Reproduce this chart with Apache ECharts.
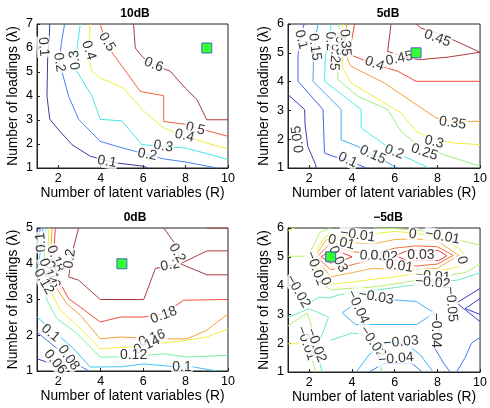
<!DOCTYPE html>
<html><head><meta charset="utf-8">
<script src="https://cdn.jsdelivr.net/npm/echarts@6/dist/echarts.min.js"></script>
<style>html,body{margin:0;padding:0;background:#fff}#c{width:490px;height:408px}</style>
</head><body><div id="c"></div>
<script>
// ---------- data ----------
const titles = ['10dB', '5dB', '0dB', '\u22125dB'];
const xTicks = [2, 4, 6, 8, 10];
const yMaxes = [7, 6, 5, 6];
const bestPoints = [[9, 6], [7, 5], [5, 4], [3, 5]];

// 10dB contour lines [level, [[R, lambda], ...]]
const lines10 = [
  [0.1, [[1.6,7],[1.58,6.5],[1.5,5.5],[1.47,4.0],[1.6,3.04],[1.94,2.67],[2.65,1.97],[3.51,1.49],[4.4,1.28],[4.77,1.21],[6.03,1.07],[6.2,1.0]]],
  [0.2, [[2.3,7],[2.15,6.2],[2.05,5.4],[2.18,5.0],[2.49,3.99],[2.96,3.03],[3.98,2.11],[4.77,1.9],[5.6,1.7],[6.2,1.56],[6.97,1.38],[8.07,1.24],[9.48,1.0]]],
  [0.3, [[3.04,7],[2.92,6.2],[2.8,5.5],[2.88,5.03],[3.59,3.99],[3.98,3.03],[5.0,2.96],[5.95,1.97],[7.0,1.9],[7.99,1.83],[9.0,1.6],[10,1.35]]],
  [0.4, [[3.51,7],[3.43,6.2],[3.45,5.6],[3.59,5.03],[3.98,4.75],[5.08,4.33],[5.95,3.43],[6.97,2.67],[7.75,2.39],[8.1,2.3],[9.0,2.04],[10,1.79]]],
  [0.5, [[3.98,7],[4.2,6.3],[4.61,5.72],[5.87,4.19],[6.97,4.01],[6.97,2.94],[8.07,2.81],[8.5,2.68],[10,2.32]]],
  [0.6, [[5.55,7],[5.63,6.0],[6.0,5.6],[6.5,5.3],[7.28,5.03],[7.99,4.33],[8.54,3.85],[9.0,3.01],[10,3.01]]]
];
const labels10 = [[1.3,6.05,'0.1'],[2.05,5.4,'0.2'],[2.8,5.5,'0.3'],[3.44,5.9,'0.4'],[4.3,6.25,'0.5'],[6.5,5.3,'0.6'],
  [8.46,2.63,'0.5'],[7.95,2.34,'0.4'],[6.95,1.9,'0.3'],[6.2,1.56,'0.2'],[4.3,1.27,'0.1']];

// 5dB contour lines
const lines5 = [
  [0.05, [[1,3.55],[1.78,3.03],[1.8,2.5],[1.93,1.75],[2.29,1.12],[2.32,1]]],
  [0.1, [[1.75,6],[1.6,5.5],[1.47,4.94],[1.47,4.01],[2.64,3.03],[2.71,1.52],[3.1,1.41],[3.9,1.25],[4.66,1]]],
  [0.15, [[2.4,6],[2.25,5.3],[2.2,4.9],[2.17,4.01],[3.49,3.03],[3.49,1.98],[4.27,1.75],[5.0,1.45],[6.14,1.0]]],
  [0.2, [[3.02,6],[2.95,5.3],[2.75,4.9],[2.71,4.01],[4.43,3.03],[4.43,2.39],[5.21,1.98],[6.0,1.55],[7.62,1.0]]],
  [0.25, [[3.41,6],[3.3,5.3],[3.34,4.07],[4.27,3.49],[5.67,3.03],[6.3,2.27],[7.0,1.85],[8.32,1.46],[10,1.06]]],
  [0.3, [[3.57,6],[3.55,5.3],[3.55,4.5],[3.96,3.95],[6.3,2.91],[7.0,2.27],[8.0,1.95],[8.79,1.87],[10,1.81]]],
  [0.35, [[3.75,6],[3.7,5.2],[3.8,4.76],[3.96,4.53],[5.52,3.95],[7.93,2.74],[8.7,2.62],[10,2.62]]],
  [0.4, [[4.12,6],[3.95,5.3],[3.88,4.94],[5.0,4.62],[6.14,4.36],[7.0,4.01],[10,4.01]]],
  [0.45, [[5.83,6],[5.67,5.05],[6.5,4.85],[7.15,4.76],[8.5,4.85],[10,5.02],[8.32,5.59],[7.23,5.86],[7.0,6]]]
];
const labels5 = [[1.62,5.46,'0.1'],[2.25,5.2,'0.15'],[2.99,5.4,'0.2'],[3.2,4.85,'0.25'],[3.45,5.25,'0.3'],[3.68,5.35,'0.35'],
  [5.05,4.62,'0.4'],[6.22,4.8,'0.45'],[8.0,5.5,'0.45'],[8.71,2.56,'0.35'],[7.85,1.9,'0.3'],[7.39,1.55,'0.25'],
  [5.98,1.56,'0.2'],[4.97,1.46,'0.15'],[3.8,1.28,'0.1'],[1.47,2.0,'0.05']];

// 0dB contour lines
const lines0 = [
  [0.06, [[1.05,5],[1.0,4.85]]],
  [0.06, [[1,1.34],[2.0,1.15],[2.65,1.0]]],
  [0.08, [[1.16,5],[1.0,4.5]]],
  [0.08, [[1,2.09],[2.0,1.6],[2.88,1.2],[3.43,1.0]]],
  [0.1, [[1.28,5],[1.15,4.3],[1.0,3.8]]],
  [0.1, [[1,2.51],[1.9,2.05],[2.65,1.67],[3.51,1.11],[5.0,1.12],[6.03,1.2],[7.5,1.12],[8.38,1.11],[9.48,1.0]]],
  [0.12, [[1.41,5],[1.35,4.3],[1.3,3.6],[1.47,2.98],[1.94,2.46],[2.81,2.09],[3.98,1.39],[5.24,1.39],[6.97,1.48],[8.07,1.39],[10,1.44]]],
  [0.14, [[1.57,5],[1.5,4.3],[1.5,3.6],[1.63,3.25],[2.1,2.7],[2.88,2.28],[3.98,1.62],[5.24,1.67],[6.5,1.75],[8.07,1.86],[9,1.95],[10,2.18]]],
  [0.16, [[1.71,5],[1.65,4.3],[1.65,3.8],[1.79,3.44],[2.41,2.88],[3.04,2.56],[3.98,1.9],[4.93,1.95],[6.03,1.92],[6.97,1.9],[8.07,1.9],[9.0,2.14],[10,2.6]]],
  [0.18, [[1.86,5],[1.8,4.3],[1.79,3.82],[2.02,3.54],[2.49,3.02],[3.04,2.79],[3.98,2.37],[4.93,2.51],[6.03,2.51],[6.97,2.6],[7.91,2.98],[10,3.0]]],
  [0.2, [[2.96,5],[2.7,4.4],[2.49,3.63],[2.96,3.54],[3.98,3.0],[6.03,3.0],[6.58,3.87],[7.75,4.0],[9.01,3.69],[10,3.69]]],
  [0.2, [[6.97,5.0],[7.6,4.48],[7.75,4.0],[9.01,4.36],[10,4.36]]],
  [0.2, [[9,5],[10,5]]]
];
const labels0 = [[1.19,4.6,'0.1'],[1.86,4.14,'0.18'],[1.72,3.7,'0.16'],[1.5,3.78,'0.14'],[1.32,3.5,'0.12'],[2.55,4.14,'0.2'],
  [7.28,3.96,'0.2'],[7.6,4.3,'0.2'],[6.97,2.56,'0.18'],[6.42,1.92,'0.16'],[6.18,1.72,'0.14'],[5.55,1.44,'0.12'],
  [7.83,1.1,'0.1'],[1.63,2.06,'0.1'],[2.49,1.37,'0.08'],[1.86,1.25,'0.06']];

// -5dB contour lines
const linesM5 = [
  [0.03, [[2.55,5.0],[3.0,5.22],[3.6,5.12],[4.0,5.0],[3.6,4.88],[3.0,4.78],[2.55,5.0]]],
  [0.03, [[6.03,5.04],[6.58,5.21],[8.06,5.21],[8.45,5.04],[8.06,4.87],[6.58,4.87],[6.03,5.04]]],
  [0.02, [[2.35,5.0],[2.9,5.4],[4.0,5.18],[5.0,5.1],[6.0,5.3],[7.0,5.38],[8.0,5.35],[8.75,5.05],[8.0,4.75],[7.0,4.68],[6.0,4.75],[5.0,4.92],[4.0,4.72],[3.0,4.55],[2.35,5.0]]],
  [0.01, [[2.25,5.0],[2.8,5.6],[3.9,5.5],[5.0,5.45],[6.0,5.6],[7.0,5.62],[8.0,5.55],[9.0,5.05],[8.0,4.6],[7.0,4.55],[6.0,4.55],[5.0,4.6],[4.0,4.45],[3.0,4.3],[2.25,5.0]]],
  [0, [[2.15,5.0],[2.75,5.72],[4.0,5.75],[5.0,5.8],[6.0,5.88],[7.0,5.82],[8.0,5.68],[9.0,5.3],[9.35,5.0],[9.0,4.65],[8.0,4.5],[7.0,4.42],[6.0,4.3],[5.0,4.22],[4.0,4.12],[3.0,4.05],[2.6,4.35],[2.15,5.0]]],
  [0, [[1,1.98],[1.45,1.98],[1.6,2.15]]],
  [0, [[1,5.9],[1.3,6.0]]],
  [-0.01, [[1,5.02],[1.95,5.02],[2.5,5.85],[3.0,6.0]]],
  [-0.01, [[5.0,6.0],[6.0,5.98],[7.3,5.9],[8.3,5.75],[9.2,5.55],[10,5.4]]],
  [-0.01, [[10,4.75],[9.3,4.45],[8.5,4.35],[7.8,4.3],[6.5,4.12],[5.5,4.0],[4.5,3.92],[3.5,3.88],[3.0,3.85],[2.7,4.0],[2.3,4.6],[1.95,5.02]]],
  [-0.01, [[1,2.6],[1.9,3.05],[2.1,2.6],[1.85,2.0],[2.1,1.5],[2.3,1.0]]],
  [-0.02, [[1,4.4],[1.5,3.8],[2.0,3.4],[2.45,3.6],[2.92,3.57],[3.5,3.7],[4.5,3.78],[5.5,3.88],[6.5,3.98],[7.8,4.1],[9.0,4.2],[10,4.45]]],
  [-0.02, [[1,2.9],[2.0,3.2],[2.9,2.9],[2.6,2.3],[2.35,1.8],[2.6,1.0]]],
  [-0.02, [[3.0,2.1],[4.0,2.35],[4.6,2.3],[5.2,1.75],[5.4,1.0]]],
  [-0.03, [[3.54,3.06],[4.3,3.45],[5.0,3.55],[6.0,3.5],[7.0,3.45],[7.85,3.05],[7.04,2.65],[6.0,2.65],[4.16,2.65],[3.54,3.06]]],
  [-0.03, [[4.2,1.0],[4.8,1.6],[5.5,2.0],[6.5,2.0],[7.2,1.6],[7.8,1.0]]],
  [-0.04, [[4.8,1.0],[5.5,1.3],[6.8,1.3],[7.3,1.0]]],
  [-0.04, [[7.85,3.05],[8.1,2.5],[7.9,1.8],[8.3,1.3],[8.6,1.0]]],
  [-0.04, [[8.9,1.0],[9.3,1.5],[9.6,2.0],[10,2.2]]],
  [-0.05, [[10,3.9],[8.9,3.4],[10,2.75]]],
  [-0.05, [[10,3.55],[9.3,3.2],[10,3.0]]]
];
const labelsM5 = [[4.27,5.75,'\u22120.01'],[6.84,5.78,'0'],[8.24,5.7,'\u22120.01'],[3.5,5.5,'0.01'],[3.34,4.92,'0.03'],
  [5.0,5.02,'0.02'],[5.5,5.02,'0.02'],[7.23,5.05,'0.03'],[6.22,4.68,'0.01'],[9.15,4.88,'0'],[7.78,4.32,'\u22120.01'],
  [7.78,4.1,'\u22120.02'],[2.3,4.6,'\u22120.01'],[2.75,4.15,'0'],[1.47,3.8,'\u22120.02'],[5.13,3.6,'\u22120.03'],
  [4.27,3.26,'\u22120.04'],[8.65,3.35,'\u22120.05'],[7.93,2.45,'\u22120.04'],[4.97,2.04,'\u22120.02'],[6.3,2.04,'\u22120.03'],
  [6.06,1.46,'\u22120.04'],[1.85,2.0,'\u22120.01'],[2.32,1.93,'\u22120.02']];

// ---------- styles ----------
const rot10 = [-85, -82, 97, -72, -58, -22, -14, -14, -8, -10, -10];
const rot5 = [-75, -82, -88, -95, -88, -85, -20, 12, -20, -8, -14, -18, -20, -24, -24, 98];
const rot0 = [95, -70, -75, -70, -60, 82, 10, -60, 20, 20, 25, 0, 0, -40, -55, -50];
const rotM5 = [-8, -8, -10, -14, -65, -3, -3, 0, -8, -75, -5, -5, -70, -70, -60, -10, -65, -85, -90, -55, 5, 5, -70, -70];
const colors10 = {'0.1':'#3d3d9a','0.2':'#4d80ee','0.3':'#48e6e6','0.4':'#ecec3c','0.5':'#f0643c','0.6':'#a63c3c'};
const colors5 = {'0.05':'#3c3cb4','0.1':'#4060f0','0.15':'#40a8f4','0.2':'#44ecec','0.25':'#96f07a','0.3':'#f2ec40','0.35':'#f5a035','0.4':'#ef4a3a','0.45':'#aa3c3c'};
const colors0 = {'0.06':'#3c3cb4','0.08':'#4070f0','0.1':'#40c4f4','0.12':'#7cf0a0','0.14':'#eeee40','0.16':'#f5a035','0.18':'#ef4a3a','0.2':'#aa3c3c'};
const colorsM5 = {'-0.05':'#3c3cc8','-0.04':'#4078f0','-0.03':'#40b4f4','-0.02':'#6ee8c0','-0.01':'#b4f070','0':'#f0ee40','0.01':'#f5b040','0.02':'#f27040','0.03':'#e83c3c'};
const gridBoxes = [
  {left: 37, top: 24, width: 191, height: 144},
  {left: 288, top: 24, width: 193, height: 144},
  {left: 37, top: 228, width: 191, height: 143},
  {left: 288, top: 228, width: 193, height: 144}
];
const titleX = [130, 383, 130, 383];
const titleY = [3, 3, 207, 207];
const FONT = 'Liberation Sans, Arial, sans-serif';

const panelData = [
  [lines10, labels10, rot10, colors10],
  [lines5, labels5, rot5, colors5],
  [lines0, labels0, rot0, colors0],
  [linesM5, labelsM5, rotM5, colorsM5]
];

const grid = [], xAxis = [], yAxis = [], series = [], title = [];
panelData.forEach(([lines, labels, rots, colors], i) => {
  grid.push(Object.assign({show: true, borderColor: '#222', borderWidth: 1, backgroundColor: '#fff', containLabel: false}, gridBoxes[i]));
  title.push({text: titles[i], left: titleX[i], top: titleY[i], textAlign: 'center',
    textStyle: {fontFamily: FONT, fontWeight: 'bold', fontSize: 12, color: '#000'}});
  xAxis.push({type: 'value', gridIndex: i, min: 1, max: 10,
    name: 'Number of latent variables (R)', nameLocation: 'middle', nameGap: 16,
    nameTextStyle: {fontFamily: FONT, fontSize: 13.8, color: '#000'},
    axisLine: {show: true, lineStyle: {color: '#222'}},
    axisTick: {show: true, inside: true, length: 3, customValues: xTicks, lineStyle: {color: '#222'}},
    axisLabel: {customValues: xTicks, fontFamily: FONT, fontSize: 12.5, color: '#000', margin: 4},
    splitLine: {show: false}});
  yAxis.push({type: 'value', gridIndex: i, min: 1, max: yMaxes[i], interval: 1,
    name: 'Number of loadings (\u03bb)', nameLocation: 'middle', nameGap: 17,
    nameTextStyle: {fontFamily: FONT, fontSize: 13.8, color: '#000'},
    axisLine: {show: true, lineStyle: {color: '#222'}},
    axisTick: {show: true, inside: true, length: 3, lineStyle: {color: '#222'}},
    axisLabel: {fontFamily: FONT, fontSize: 12.5, color: '#000', margin: 4},
    splitLine: {show: false}});
  lines.forEach(([lev, pts]) => {
    series.push({type: 'line', xAxisIndex: i, yAxisIndex: i, data: pts, symbol: 'none', silent: true,
      animation: false, z: 2, lineStyle: {color: colors[String(lev)], width: 1}});
  });
  series.push({type: 'scatter', xAxisIndex: i, yAxisIndex: i, symbolSize: 0, z: 5, silent: true, animation: false,
    data: labels.map((l, k) => ({value: [l[0], l[1]], label: {formatter: l[2], rotate: rots[k]}})),
    label: {show: true, position: 'inside', color: '#000', fontFamily: FONT, fontSize: 14,
      backgroundColor: '#fff', padding: [0, 1]}});
  series.push({type: 'scatter', xAxisIndex: i, yAxisIndex: i, symbol: 'rect', symbolSize: 10, z: 6,
    silent: true, animation: false, data: [bestPoints[i]],
    itemStyle: {color: '#00ff00', borderColor: '#3344cc', borderWidth: 1}});
});

const chart = echarts.init(document.getElementById('c'), null, {renderer: 'canvas'});
chart.setOption({animation: false, backgroundColor: '#fff', title, grid, xAxis, yAxis, series});
</script></body></html>
